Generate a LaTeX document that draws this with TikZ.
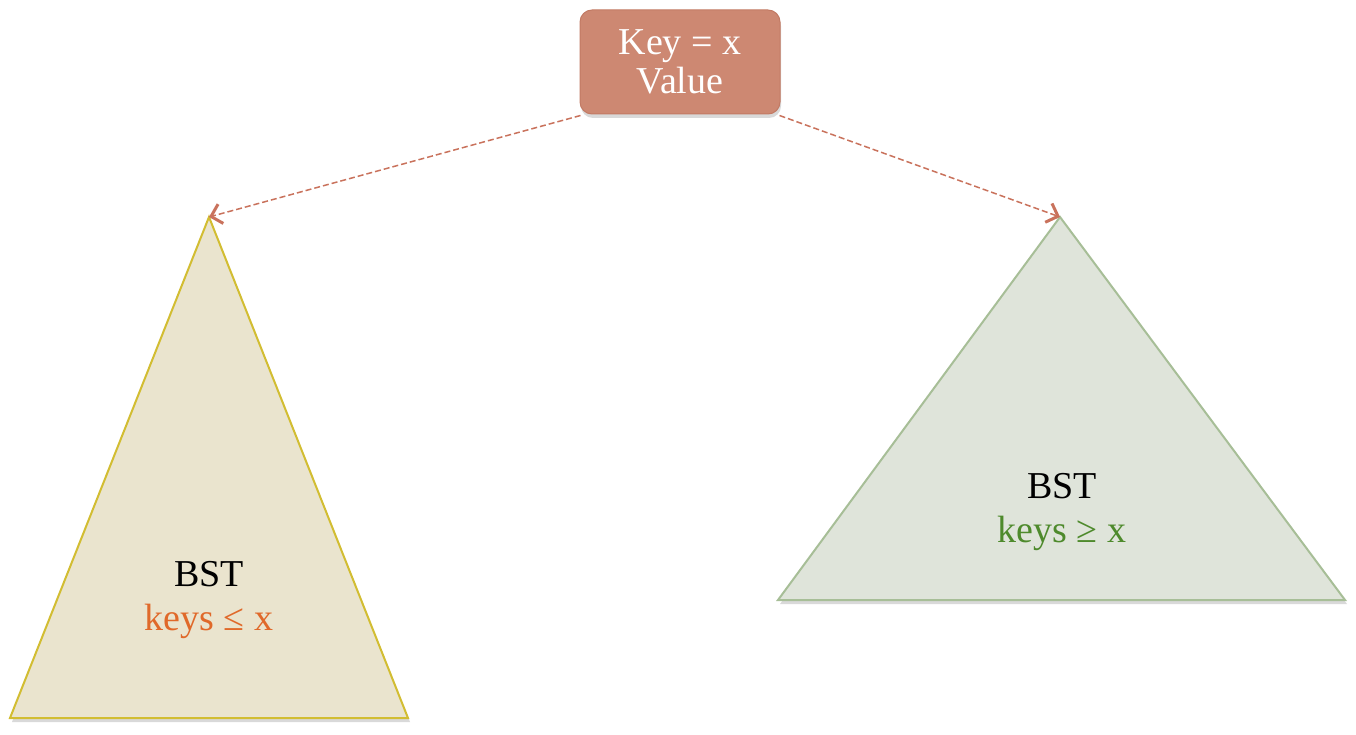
\documentclass[tikz,border=0pt]{standalone}
\usepackage{fontspec}
\setmainfont{Liberation Serif}
\usetikzlibrary{shadows,arrows.meta}
\definecolor{boxfill}{HTML}{CD8872}
\definecolor{boxline}{HTML}{C27A64}
\definecolor{arrowc}{HTML}{C9725C}
\definecolor{lfill}{HTML}{EAE4CE}
\definecolor{lline}{HTML}{D2BD32}
\definecolor{rfill}{HTML}{DFE4DA}
\definecolor{rline}{HTML}{A7BE97}
\definecolor{orangetxt}{HTML}{E0692A}
\definecolor{greentxt}{HTML}{4E8A2C}
\tikzset{
  keybox/.style={draw=boxline, line width=1pt, fill=boxfill, rounded corners=12pt,
    minimum width=200pt, minimum height=104pt, inner sep=0pt, align=center,
    text=white, font=\fontsize{38}{41}\selectfont,
    drop shadow={opacity=0.3, shadow xshift=1pt, shadow yshift=-4pt}},
  ltri/.style={draw=lline, fill=lfill, line width=2pt, line join=miter,
    drop shadow={opacity=0.3, shadow xshift=2pt, shadow yshift=-4pt}},
  rtri/.style={draw=rline, fill=rfill, line width=2pt, line join=miter,
    drop shadow={opacity=0.3, shadow xshift=2pt, shadow yshift=-4pt}},
  lbl/.style={align=center, font=\fontsize{38}{44}\selectfont, inner sep=0pt},
  link/.style={arrowc, dash pattern=on 6pt off 3pt, line width=1.5pt,
    -{Straight Barb[length=10pt, width=20pt, line width=3pt]}}
}
\begin{document}
\begin{tikzpicture}[x=1pt, y=-1pt]
\useasboundingbox (0,0) rectangle (1356,735);
% triangles
\coordinate (la) at (209,217);
\coordinate (lb) at (10,718);
\coordinate (lc) at (408,718);
\coordinate (ra) at (1060,217);
\coordinate (rb) at (778,600);
\coordinate (rc) at (1345,600);
\path[ltri] (la) -- (lc) -- (lb) -- cycle;
\path[rtri] (ra) -- (rc) -- (rb) -- cycle;
% root box
\node[keybox] (root) at (680,62) {\raisebox{-2pt}{Key = x}\\Value};
% labels
\node[lbl] (ltxt) at (209,600) {BST\\\textcolor{orangetxt}{keys ≤ x}};
\node[lbl] (rtxt) at (1062,512) {BST\\\textcolor{greentxt}{keys ≥ x}};
% connectors
\draw[link] (root.south west) ++(1pt,-1pt) coordinate (ls) (ls) -- (la);
\draw[link] (root.south east) ++(-1pt,-1pt) coordinate (rs) (rs) -- (ra);
\end{tikzpicture}
\end{document}
